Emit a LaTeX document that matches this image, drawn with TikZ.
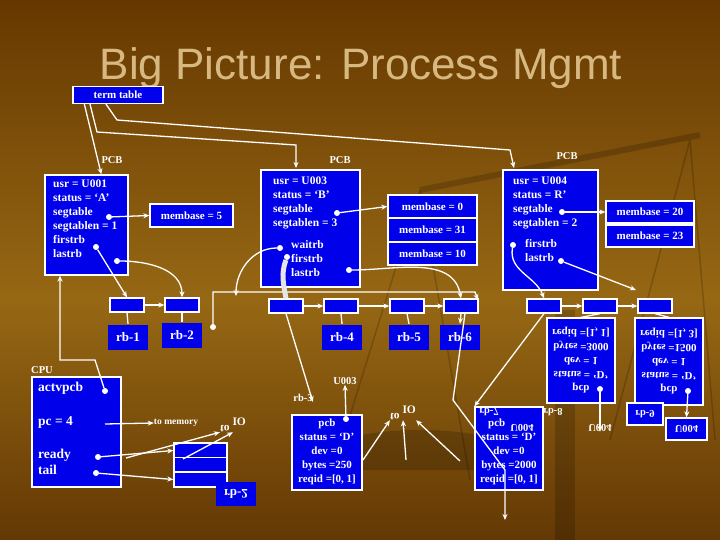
\documentclass[tikz,border=0pt]{standalone}
\usepackage{fontspec}
\setmainfont{Liberation Serif}
\newfontfamily\titlefont{Liberation Sans}
\usetikzlibrary{arrows.meta}
\definecolor{bx}{RGB}{0,0,235}
\definecolor{ttl}{RGB}{214,184,128}
\definecolor{bgtop}{RGB}{102,56,0}
\definecolor{bgmid}{RGB}{150,104,20}
\definecolor{bgbot}{RGB}{100,56,4}
\begin{document}
\begin{tikzpicture}[x=1pt,y=-1pt,
  bx/.style={draw=white,line width=1.3pt,fill=bx,inner sep=0pt},
  tx/.style={text=white,font=\bfseries\fontsize{11.5}{14}\selectfont,align=left,inner sep=0pt,anchor=north west},
  ctx/.style={text=white,font=\bfseries\fontsize{11}{14}\selectfont,align=center,inner sep=0pt},
  lbl/.style={text=white,font=\bfseries\fontsize{10.5}{12}\selectfont,inner sep=0pt},
  con/.style={draw=white,line width=1.3pt,-{Stealth[length=6pt,width=5pt]}},
  ln/.style={draw=white,line width=1.3pt},
  dot/.style={circle,fill=white,inner sep=0pt,minimum size=6pt}]
\useasboundingbox (0,0) rectangle (720,540);
\shade[top color=bgtop,bottom color=bgmid] (0,0) rectangle (720,300);
\shade[top color=bgmid,bottom color=bgbot] (0,300) rectangle (720,540);
% faint scales
\begin{scope}[color=black,opacity=0.18,line width=6pt]
\draw (420,190) -- (700,135);
\fill (555,310) rectangle (575,540);
\draw[line width=1.5pt] (420,190) -- (330,480) (420,190) -- (470,480);
\draw[line width=1.5pt] (690,140) -- (610,440) (690,140) -- (715,440);
\fill (300,470) arc (180:360:120 and 40) -- cycle;
\end{scope}
\node[text=ttl,font=\titlefont\fontsize{44}{46}\selectfont] (title) at (361,68) {Big Picture: Process Mgmt};
\node[bx,minimum width=90pt,minimum height=17pt] (tt) at (118,95) {};
\node[ctx] at (tt) {term table};
% PCB A
\node[lbl] (pA) at (112,160) {PCB};
\node[bx,minimum width=83pt,minimum height=100pt] (A) at (86.5,225) {};
\node[tx] (Atx) at (53,180) {usr = U001\\status = `A'\\segtable\\segtablen = 1\\firstrb\\lastrb};
\node[bx,minimum width=83pt,minimum height=23pt] (mA) at (191.5,215.5) {};
\node[ctx] at (mA) {membase = 5};
% PCB B
\node[lbl] (pB) at (340,160) {PCB};
\node[bx,minimum width=99pt,minimum height=117pt] (B) at (310.5,228.5) {};
\node[tx] at (273,177) {usr = U003\\status = `B'\\segtable\\segtablen = 3};
\node[tx] at (291,240) {waitrb\\firstrb\\lastrb};
\node[bx,minimum width=89pt,minimum height=23pt] (m0) at (432.5,206.5) {};
\node[ctx] at (m0) {membase = 0};
\node[bx,minimum width=89pt,minimum height=23pt] (m31) at (432.5,230) {};
\node[ctx] at (m31) {membase = 31};
\node[bx,minimum width=89pt,minimum height=23pt] (m10) at (432.5,253.5) {};
\node[ctx] at (m10) {membase = 10};
% PCB C
\node[lbl] (pC) at (567,156) {PCB};
\node[bx,minimum width=95pt,minimum height=120pt] (C) at (550.5,230) {};
\node[tx] at (513,177) {usr = U004\\status = R'\\segtable\\segtablen = 2};
\node[tx] at (525,239) {firstrb\\lastrb};
\node[bx,minimum width=88pt,minimum height=22pt] (m20) at (650,212) {};
\node[ctx] at (m20) {membase = 20};
\node[bx,minimum width=88pt,minimum height=22pt] (m23) at (650,236) {};
\node[ctx] at (m23) {membase = 23};
% rb headers row A
\node[bx,minimum width=34pt,minimum height=14pt] (h1) at (127,305) {};
\node[bx,minimum width=34pt,minimum height=14pt] (h2) at (182,305) {};
\node[bx,minimum width=40pt,minimum height=25pt,draw=none] (rb1) at (128,337) {};
\node[ctx,font=\bfseries\fontsize{13}{14}\selectfont] at (rb1) {rb-1};
\node[bx,minimum width=40pt,minimum height=25pt,draw=none] (rb2) at (182,335) {};
\node[ctx,font=\bfseries\fontsize{13}{14}\selectfont] at (rb2) {rb-2};
% row B
\node[bx,minimum width=34pt,minimum height=14pt] (h3) at (286,306) {};
\node[bx,minimum width=34pt,minimum height=14pt] (h4) at (341,306) {};
\node[bx,minimum width=34pt,minimum height=14pt] (h5) at (407,306) {};
\node[bx,minimum width=34pt,minimum height=14pt] (h6) at (461,306) {};
\node[bx,minimum width=40pt,minimum height=25pt,draw=none] (rb4) at (342,337) {};
\node[ctx,font=\bfseries\fontsize{13}{14}\selectfont] at (rb4) {rb-4};
\node[bx,minimum width=40pt,minimum height=25pt,draw=none] (rb5) at (409,337) {};
\node[ctx,font=\bfseries\fontsize{13}{14}\selectfont] at (rb5) {rb-5};
\node[bx,minimum width=40pt,minimum height=25pt,draw=none] (rb6) at (460,337) {};
\node[ctx,font=\bfseries\fontsize{13}{14}\selectfont] at (rb6) {rb-6};
% row C
\node[bx,minimum width=34pt,minimum height=14pt] (h7) at (544,306) {};
\node[bx,minimum width=34pt,minimum height=14pt] (h8) at (600,306) {};
\node[bx,minimum width=34pt,minimum height=14pt] (h9) at (655,306) {};
\node[bx,minimum width=68pt,minimum height=85pt] (f8) at (581,360.5) {};
\node[ctx,yscale=-1] at (581,360) {pcb\\status = `D'\\dev = 1\\bytes =3000\\reqid =[1, 1]};
\node[bx,minimum width=68pt,minimum height=87pt] (f9) at (669,361.5) {};
\node[ctx,yscale=-1] at (669,361) {pcb\\status = `D'\\dev = 1\\bytes =1500\\reqid =[1, 3]};
\node[lbl,yscale=-1] (rb8) at (553,412) {rb-8};
\node[lbl,yscale=-1] (u8) at (600,428) {U004};
\node[bx,minimum width=36pt,minimum height=22pt] (rb9) at (645,414) {};
\node[lbl,yscale=-1] at (rb9) {rb-9};
\node[bx,minimum width=41pt,minimum height=22pt] (u9) at (686.5,429) {};
\node[lbl,yscale=-1] at (u9) {U004};
% rb-7
\node[bx,minimum width=68pt,minimum height=83pt] (r7) at (509,448.5) {};
\node[lbl,yscale=-1] at (489,412) {rb-7};
\node[ctx] at (509,452) {pcb\phantom{U004}\\status = `D'\\dev =0\\bytes =2000\\reqid =[0, 1]};
\node[lbl,yscale=-1] (u7) at (522,428) {U004};
% rb-3
\node[lbl] (l3) at (303,398) {rb-3};
\node[lbl] (u3) at (345,381) {U003};
\node[bx,minimum width=70pt,minimum height=75pt] (r3) at (327,452.5) {};
\node[ctx] at (327,452) {pcb\\status = `D'\\dev =0\\bytes =250\\reqid =[0, 1]};
% CPU
\node[lbl] (cpul) at (42,370) {CPU};
\node[bx,minimum width=89pt,minimum height=110pt] (cpu) at (76.5,432) {};
\node[tx,font=\bfseries\fontsize{13.5}{16}\selectfont] at (38,382) {actvpcb};
\node[tx,font=\bfseries\fontsize{13.5}{16}\selectfont] at (38,416) {pc = 4};
\node[tx,font=\bfseries\fontsize{13.5}{16}\selectfont] at (38,449) {ready\\tail};
\node[lbl,font=\bfseries\fontsize{9.5}{10}\selectfont] (mem) at (176,423) {to memory};
\node[lbl,font=\bfseries\fontsize{11.5}{12}\selectfont] (io1) at (233,425) {\scalebox{1}[-1]{to} IO};
\node[lbl,font=\bfseries\fontsize{11.5}{12}\selectfont] (io2) at (403,413) {\scalebox{1}[-1]{to} IO};
\node[bx,minimum width=53pt,minimum height=15pt] (q1) at (200.5,450.5) {};
\node[bx,minimum width=53pt,minimum height=15pt] (q2) at (200.5,465) {};
\node[bx,minimum width=53pt,minimum height=15pt] (q3) at (200.5,479.5) {};
\node[bx,minimum width=40pt,minimum height=24pt,draw=none] (rq2) at (236,494) {};
\node[ctx,yscale=-1,font=\bfseries\fontsize{13}{14}\selectfont] at (rq2) {rb-2};
% dots
\node[dot] (dAs) at (109,217) {};
\node[dot] (dAf) at (96,247) {};
\node[dot] (dAl) at (117,261) {};
\node[dot] (dBs) at (337,213) {};
\node[dot] (dBw) at (280,248) {};
\node[dot] (dBf) at (287,257) {};
\node[dot] (dBl) at (349,270) {};
\node[dot] (dCs) at (562,212) {};
\node[dot] (dCf) at (513,245) {};
\node[dot] (dCl) at (561,261) {};
\node[dot] (dact) at (105,391) {};
\node[dot] (drd) at (98,457) {};
\node[dot] (dtl) at (96,473) {};
\node[dot] (d3) at (346,419) {};
\node[dot] (d8) at (600,389) {};
\node[dot] (d9) at (688,391) {};
\node[dot] (dfree) at (213,327) {};
% connectors
\draw[con] (tt.south west)++(12,0) -- (pA.west|-A.north);
\draw[con] ([xshift=-28]tt.south) -- (97,132) -- (296,145) -- (296,168);
\draw[con] ([xshift=-12]tt.south) -- (117,120) -- (510,150) -- (514,168);
\draw[con] (dAs) -- (mA.west);
\draw[con] (dAf) -- (h1.north);
\draw[con] (dAl) to[out=0,in=90] (h2.north);
\draw[con] (h1) -- (h2);
\draw[ln] (h1.south) -- (rb1.north);
\draw[ln] (h2.south) -- (rb2.north);
\draw[con] (dact) -- (95,360) -- (60,360) -- (A.south-|60,0);
\draw[con] (dBs) -- (m0.west);
\draw[con] (dBw) to[out=180,in=90] (236,296);
\draw[con] (dfree) -- (213,292) -- (475,292) -- (478,300);
\draw[ln,line width=5pt,white!80!gray] (dBf) to[out=-110,in=100] (h3.north);
\draw[con] (dBl) to[out=0,in=100] (h6.north);
\draw[con] (h3) -- (h4);
\draw[con] (h4) -- (h5);
\draw[con] (h5) -- (h6);
\draw[ln] (h4.south) -- (rb4.north);
\draw[ln] (h5.south) -- (rb5.north);
\draw[con] (h6.south) -- (rb6.north);
\draw[con] (h3.south) -- (l3.south east);
\draw[con] (d3) -- (u3.south);
\draw[con] (h6.south)++(4,0) -- (453,400) -- (505,470) -- (505,520);
\draw[con] (dCs) -- (m20.west);
\draw[con] (dCf) to[out=-100,in=110] (h7.north);
\draw[con] (dCl) -- (636,290);
\draw[con] (h7) -- (h8);
\draw[con] (h8) -- (h9);
\draw[ln] (h8.south) -- (f8.north);
\draw[ln] (h9.south) -- (f9.north);
\draw[con] (h7.south) -- (r7.north west);
\draw[con] (d8) -- (u8.north);
\draw[con] (d9) -- (u9.north);
\draw[con] (105,424) -- (mem.west);
\draw[con] (drd) -- (q1.west);
\draw[con] (dtl) -- (q3.west);
\draw[con] (126,458) -- (io1.south west);
\draw[con] (183,459) -- (io1.south);
\draw[con] (363,460) -- (io2.south west);
\draw[con] (406,460) -- (io2.south);
\draw[con] (460,461) -- (io2.south east);
\end{tikzpicture}
\end{document}
